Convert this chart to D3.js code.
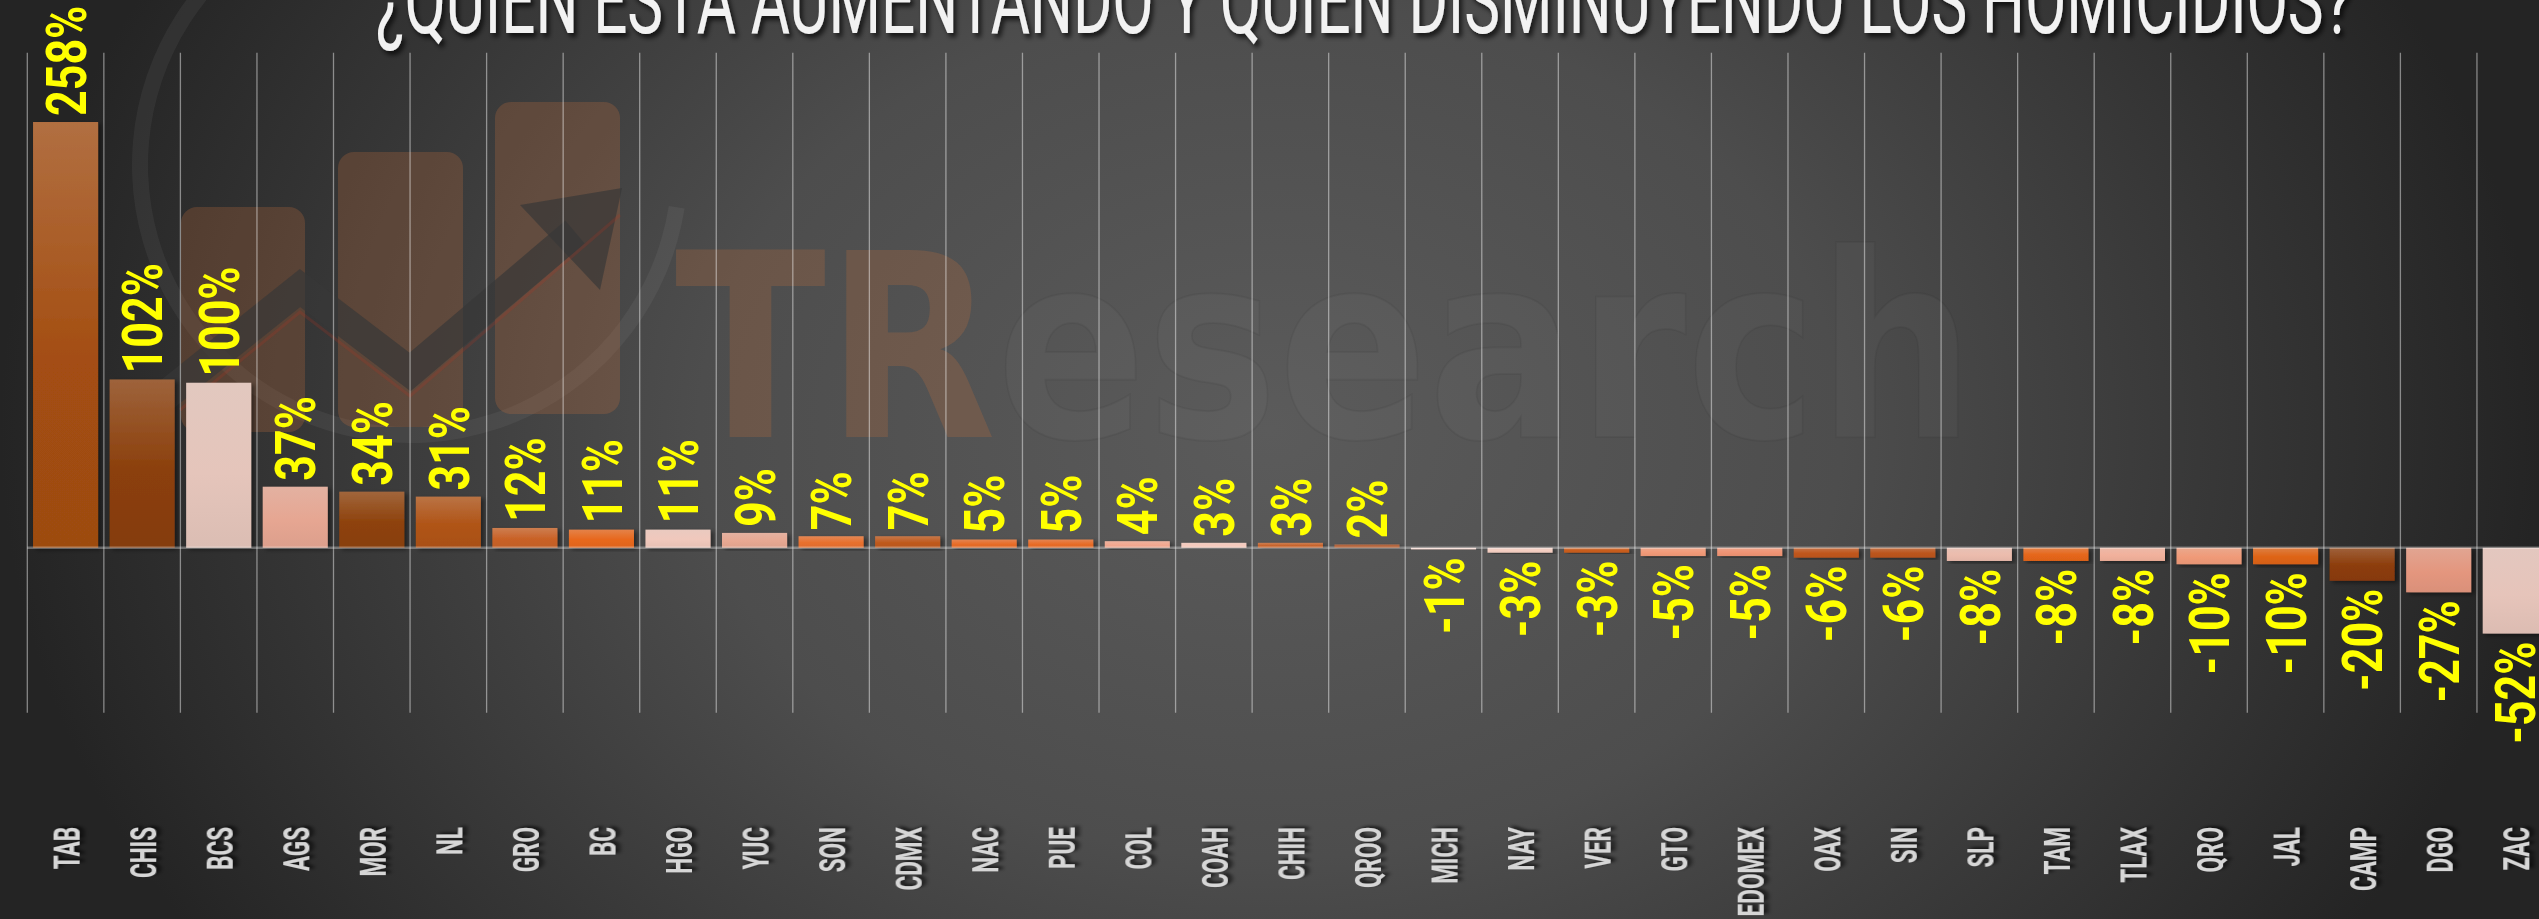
<!DOCTYPE html>
<html>
<head>
<meta charset="utf-8">
<script src="https://cdn.jsdelivr.net/npm/d3@7"></script>
<style>
  html, body { margin: 0; padding: 0; background: #2a2a2a; overflow: hidden; }
</style>
</head>
<body>
<div id="my_dataviz"></div>
<script>
// Datos: cambio porcentual de homicidios por estado
var estados = ["TAB", "CHIS", "BCS", "AGS", "MOR", "NL", "GRO", "BC", "HGO", "YUC", "SON",
  "CDMX", "NAC", "PUE", "COL", "COAH", "CHIH", "QROO", "MICH", "NAY", "VER", "GTO",
  "EDOMEX", "OAX", "SIN", "SLP", "TAM", "TLAX", "QRO", "JAL", "CAMP", "DGO", "ZAC"];
var cambio = [258, 102, 100, 37, 34, 31, 12, 11, 11, 9, 7,
  7, 5, 5, 4, 3, 3, 2, -1, -3, -3, -5,
  -5, -6, -6, -8, -8, -8, -10, -10, -20, -27, -52];
var barColors = ["#a44e12", "#8b3f0b", "#e5c5bb", "#e6a692", "#8e420c", "#b05417", "#c96227",
  "#e8681c", "#f0c8bc", "#e8a892", "#e8702e", "#c05a1e", "#e86c28", "#e86c28", "#f2a890",
  "#f5cabd", "#c8642c", "#b0582a", "#f8d8cf", "#f5cfc2", "#c95d1e", "#f29a78", "#f09474",
  "#c0561c", "#bc551c", "#ecbcad", "#e6661a", "#f2b19c", "#f09a78", "#de6416", "#8c3c0a",
  "#e4967e", "#e6c4ba"];
var yDomain = [-100, 300];
var titulo = "¿QUIEN ESTA AUMENTANDO Y QUIEN DISMINUYENDO LOS HOMICIDIOS?";

loadVisualizations = () => {
  var width = 2539,
    height = 919;

  let svg = d3
    .select("#my_dataviz")
    .append("svg")
    .attr("width", width)
    .attr("height", height);

  let defs = svg.append("defs");

  // fondo gris con centro claro
  let bg = defs
    .append("radialGradient")
    .attr("id", "bg")
    .attr("gradientUnits", "userSpaceOnUse")
    .attr("cx", 1270)
    .attr("cy", 430)
    .attr("r", 1270)
    .attr("gradientTransform", "translate(0,430) scale(1,0.75) translate(0,-430)");
  bg.append("stop").attr("offset", "0%").attr("stop-color", "#5b5b5b");
  bg.append("stop").attr("offset", "45%").attr("stop-color", "#4d4d4d");
  bg.append("stop").attr("offset", "100%").attr("stop-color", "#242424");

  let shadow = defs.append("filter").attr("id", "shadow")
    .attr("x", "-20%").attr("y", "-20%").attr("width", "140%").attr("height", "140%");
  shadow.append("feDropShadow").attr("dx", 3).attr("dy", 2)
    .attr("stdDeviation", 2).attr("flood-color", "#000").attr("flood-opacity", 0.45);

  let textShadow = defs.append("filter").attr("id", "textShadow")
    .attr("x", "-20%").attr("y", "-20%").attr("width", "140%").attr("height", "140%");
  textShadow.append("feDropShadow").attr("dx", 3).attr("dy", 4)
    .attr("stdDeviation", 2.5).attr("flood-color", "#000").attr("flood-opacity", 0.7);

  svg.append("rect").attr("width", width).attr("height", height).attr("fill", "url(#bg)");

  // marca de agua (logo + TResearch)
  let logo = svg.append("g").attr("class", "logo");
  var ring = d3.arc().innerRadius(262).outerRadius(278)
    .startAngle(Math.PI * 0.55).endAngle(Math.PI * 1.8);
  logo.append("path").attr("d", ring).attr("transform", "translate(410,165)")
    .attr("fill", "#fff").attr("opacity", 0.05);

  var logoBars = [[181, 207, 124, 225], [338, 152, 125, 275], [495, 102, 125, 312]];
  logo.selectAll("rect.lb")
    .data(logoBars)
    .enter()
    .append("rect")
    .attr("class", "lb")
    .attr("x", (d) => d[0]).attr("y", (d) => d[1])
    .attr("width", (d) => d[2]).attr("height", (d) => d[3])
    .attr("rx", 16)
    .attr("fill", "#c8703a")
    .attr("opacity", 0.25);
  logo.append("path")
    .attr("d", "M160,400 L300,288 L410,372 L575,232")
    .attr("fill", "none").attr("stroke", "#383838").attr("stroke-width", 30)
    .attr("opacity", 0.7);
  logo.append("path")
    .attr("d", "M520,205 L622,188 L600,290 Z")
    .attr("fill", "#383838").attr("opacity", 0.7);
  logo.append("path")
    .attr("d", "M180,410 L300,312 L410,396 L620,215")
    .attr("fill", "none").attr("stroke", "#c03020").attr("stroke-width", 3)
    .attr("opacity", 0.2);

  let marca = svg.append("text")
    .attr("x", 675)
    .attr("y", 437)
    .attr("font-family", "'DejaVu Sans', sans-serif")
    .attr("font-weight", "bold")
    .attr("font-size", 256)
    .attr("textLength", 1300)
    .attr("lengthAdjust", "spacingAndGlyphs");
  marca.append("tspan").text("TR").attr("fill", "#c8703a").attr("fill-opacity", 0.24);
  marca.append("tspan").text("esearch").attr("fill", "#fff").attr("fill-opacity", 0.028)
    .attr("stroke", "#000").attr("stroke-opacity", 0.05).attr("stroke-width", 2);

  // escalas
  let x = d3.scaleBand()
    .domain(estados)
    .range([27.3, 2553.5])
    .paddingInner(0.15)
    .paddingOuter(0.075);

  let y = d3.scaleLinear()
    .domain(yDomain)
    .range([712.8, 52.7]);

  var half = x.step() * 0.075;

  // lineas verticales
  svg.append("g")
    .selectAll("line")
    .data(estados)
    .enter()
    .append("line")
    .attr("x1", (d) => x(d) - half)
    .attr("x2", (d) => x(d) - half)
    .attr("y1", y(yDomain[1]))
    .attr("y2", y(yDomain[0]))
    .attr("stroke", "#fff")
    .attr("stroke-opacity", 0.45)
    .attr("stroke-width", 1.3);

  // gradientes de barras
  estados.forEach(function (d, i) {
    var c = barColors[i];
    var g = defs.append("linearGradient").attr("id", "g" + i)
      .attr("x1", 0).attr("y1", 0).attr("x2", 0).attr("y2", 1);
    g.append("stop").attr("offset", "0%").attr("stop-color", d3.interpolateRgb(c, "#d8d0cc")(0.25));
    g.append("stop").attr("offset", "55%").attr("stop-color", c);
    g.append("stop").attr("offset", "100%").attr("stop-color", d3.color(c).darker(0.12));
  });

  svg.append("g")
    .selectAll("rect")
    .data(cambio)
    .enter()
    .append("rect")
    .attr("x", (d, i) => x(estados[i]))
    .attr("y", (d) => y(Math.max(d, 0)))
    .attr("width", x.bandwidth())
    .attr("height", (d) => Math.abs(y(d) - y(0)))
    .attr("fill", (d, i) => "url(#g" + i + ")")
    .attr("filter", "url(#shadow)");

  // linea del cero
  svg.append("line")
    .attr("x1", x(estados[0]) - half)
    .attr("x2", width)
    .attr("y1", y(0))
    .attr("y2", y(0))
    .attr("stroke", "#fff")
    .attr("stroke-opacity", 0.32)
    .attr("stroke-width", 2.5);

  // etiquetas de valor
  svg.append("g")
    .selectAll("text")
    .data(cambio)
    .enter()
    .append("text")
    .attr("transform", function (d, i) {
      var cx = x(estados[i]) + x.bandwidth() / 2;
      var cy = d >= 0 ? y(d) - 6 : y(d) + 8;
      return "translate(" + cx + "," + cy + ") rotate(-90) scale(0.8,1)";
    })
    .attr("text-anchor", (d) => (d >= 0 ? "start" : "end"))
    .attr("dy", "0.36em")
    .attr("font-family", "Roboto, 'DejaVu Sans', sans-serif")
    .attr("font-weight", "bold")
    .attr("font-size", 56)
    .attr("fill", "#ffff00")
    .text((d) => d + "%");

  // etiquetas de estados
  svg.append("g")
    .selectAll("text")
    .data(estados)
    .enter()
    .append("text")
    .attr("transform", function (d) {
      var cx = x(d) + x.bandwidth() / 2;
      return "translate(" + cx + ",827) rotate(-90) scale(0.6,1)";
    })
    .attr("text-anchor", "end")
    .attr("dy", "0.36em")
    .attr("font-family", "Roboto, 'DejaVu Sans', sans-serif")
    .attr("font-weight", "bold")
    .attr("font-size", 37.5)
    .attr("fill", "#d6d6d6")
    .attr("filter", "url(#textShadow)")
    .text((d) => d);

  // titulo
  svg.append("text")
    .attr("x", 376)
    .attr("y", 33)
    .attr("font-family", "Roboto, 'DejaVu Sans', sans-serif")
    .attr("font-size", 93)
    .attr("textLength", 1976)
    .attr("lengthAdjust", "spacingAndGlyphs")
    .attr("fill", "#f2f2f2")
    .attr("filter", "url(#textShadow)")
    .text(titulo);
};

window.onload = () => {
  loadVisualizations();
};
</script>
</body>
</html>
